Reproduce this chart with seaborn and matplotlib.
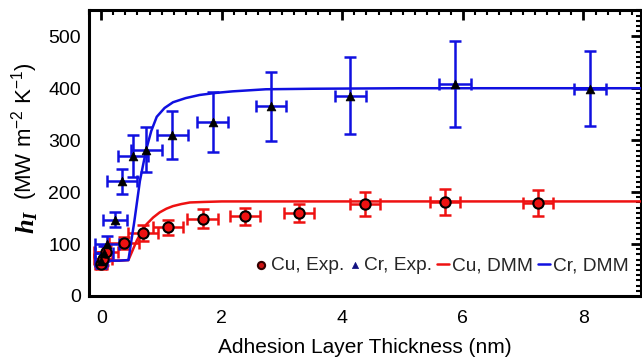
import matplotlib
matplotlib.use("Agg")
import matplotlib.pyplot as plt
import seaborn as sns
import numpy as np
import pandas as pd
from matplotlib.ticker import MultipleLocator

# ---- data ----
cu_x = [0.0, 0.03, 0.08, 0.38, 0.69, 1.10, 1.68, 2.39, 3.28, 4.38, 5.70, 7.24]
cu_y = [62, 72, 84, 102, 121, 132, 149, 153, 160, 177, 180, 179]
cu_yerr = [10, 12, 12, 12, 15, 15, 18, 17, 18, 24, 25, 25]
cu_xerr = [0.1, 0.15, 0.2, 0.25, 0.25, 0.25, 0.25, 0.25, 0.25, 0.25, 0.25, 0.25]

cr_x = [0.0, 0.05, 0.10, 0.23, 0.35, 0.52, 0.75, 1.18, 1.85, 2.82, 4.13, 5.87, 8.11]
cr_y = [68, 82, 100, 147, 221, 270, 282, 310, 335, 365, 386, 408, 399]
cr_yerr = [15, 15, 15, 15, 24, 40, 43, 47, 58, 67, 75, 83, 72]
cr_xerr = [0.1, 0.15, 0.2, 0.2, 0.25, 0.25, 0.26, 0.26, 0.26, 0.25, 0.26, 0.26, 0.26]

cu_dmm_x = [0.0, 0.30, 0.45, 0.52, 0.59, 0.67, 0.75, 0.86, 0.97, 1.08, 1.19, 1.33, 1.47, 1.7, 2.0, 3.0, 5.0, 9.0]
cu_dmm_y = [68, 68, 69, 88, 107, 124, 138, 151, 161, 168, 173, 177, 180, 181, 182, 182, 182, 182]

cr_dmm_x = [0.0, 0.30, 0.45, 0.55, 0.64, 0.70, 0.75, 0.83, 0.92, 1.05, 1.19, 1.40, 1.63, 1.9, 2.18, 2.73, 3.5, 5.0, 9.0]
cr_dmm_y = [68, 68, 69, 145, 221, 256, 284, 318, 345, 362, 373, 381, 387, 391, 394, 398, 399, 400, 400]

x_ticks = [0, 2, 4, 6, 8]
y_ticks = [0, 100, 200, 300, 400, 500]

sns.set_theme(style="white")
plt.rcParams['font.family'] = ['Liberation Sans', 'DejaVu Sans']
plt.rcParams['mathtext.fontset'] = 'custom'
plt.rcParams['mathtext.rm'] = 'Liberation Sans'
plt.rcParams['mathtext.it'] = 'Liberation Sans:italic'
plt.rcParams['mathtext.bf'] = 'Liberation Serif:bold'
plt.rcParams['mathtext.bfit'] = 'Liberation Serif:italic:bold'

fig = plt.figure(figsize=(6.42, 3.64), dpi=100)
ax = fig.add_axes([0.139, 0.187, 0.859, 0.786])

RED = '#ee1111'
BLUE = '#1010e0'

# error bars
ax.errorbar(cu_x, cu_y, yerr=cu_yerr, xerr=cu_xerr, fmt='none', ecolor=RED,
            elinewidth=1.8, capsize=4.3, capthick=1.8, zorder=2)
ax.errorbar(cr_x, cr_y, yerr=cr_yerr, xerr=cr_xerr, fmt='none', ecolor=BLUE,
            elinewidth=1.8, capsize=4.3, capthick=1.8, zorder=2)

cu_df = pd.DataFrame({'x': cu_x, 'y': cu_y})
cr_df = pd.DataFrame({'x': cr_x, 'y': cr_y})
cu_dmm = pd.DataFrame({'x': cu_dmm_x, 'y': cu_dmm_y})
cr_dmm = pd.DataFrame({'x': cr_dmm_x, 'y': cr_dmm_y})

sns.lineplot(data=cu_dmm, x='x', y='y', color=RED, lw=1.8, ax=ax, zorder=3,
             label='Cu, DMM', sort=False)
sns.lineplot(data=cr_dmm, x='x', y='y', color=BLUE, lw=1.8, ax=ax, zorder=3,
             label='Cr, DMM', sort=False)
sns.scatterplot(data=cu_df, x='x', y='y', color=RED, edgecolor='black', linewidth=1.5,
                s=55, marker='o', ax=ax, zorder=4, label='Cu, Exp.')
sns.scatterplot(data=cr_df, x='x', y='y', color='black', edgecolor='black', linewidth=0.5,
                s=40, marker='^', ax=ax, zorder=4, label='Cr, Exp.')

handles, labels = ax.get_legend_handles_labels()
order = [labels.index(l) for l in ['Cu, Exp.', 'Cr, Exp.', 'Cu, DMM', 'Cr, DMM']]
leg = ax.legend([handles[i] for i in order], [labels[i] for i in order],
                loc='lower right', bbox_to_anchor=(1.0, 0.035), ncol=4, frameon=False,
                fontsize=13.8, handlelength=0.6, handletextpad=0.2, columnspacing=0.25,
                markerscale=0.7, borderaxespad=0.2)
lh = leg.legend_handles
lh[0].set_facecolor('#cc1111')
lh[0].set_edgecolor('#330000')
lh[1].set_facecolor('#101080')
lh[1].set_edgecolor('#101080')

ax.set_xlim(-0.2, 8.95)
ax.set_ylim(0, 551)
ax.set_xticks(x_ticks)
ax.set_yticks(y_ticks)
ax.xaxis.set_minor_locator(MultipleLocator(0.2))
ax.yaxis.set_minor_locator(MultipleLocator(10))
ax.tick_params(which='both', direction='in', top=True, right=True, color='black')
ax.tick_params(which='major', length=7, width=2, labelsize=14, colors='black')
ax.tick_params(axis='x', which='major', pad=10)
ax.tick_params(axis='y', which='major', pad=6)
ax.tick_params(which='minor', length=3.5, width=1.5)
for s in ax.spines.values():
    s.set_linewidth(2.2)
    s.set_color('black')

ax.set_xlabel('Adhesion Layer Thickness (nm)', fontsize=15, color='black', labelpad=8)
ax.set_ylabel('')

fig.text(0.043, 0.39, r'$\mathbfit{h_I}$', rotation=90, ha='center', va='center',
         fontsize=19, color='black')
fig.text(0.039, 0.64, r'(MW m$^{-2}$ K$^{-1}$)', rotation=90, ha='center', va='center',
         fontsize=16, color='black')

fig.savefig('out.png', dpi=100)
